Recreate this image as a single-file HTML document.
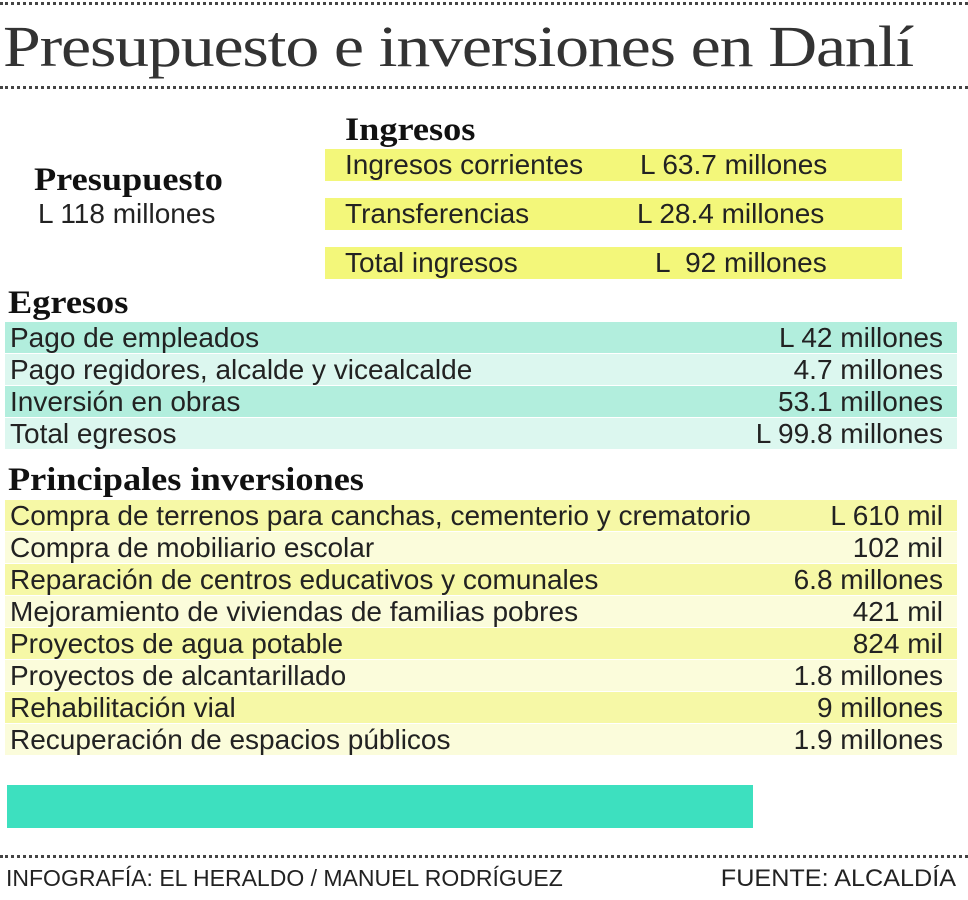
<!DOCTYPE html>
<html><head><meta charset="utf-8"><style>
body{margin:0;width:968px;height:900px;background:#fff;position:relative;overflow:hidden;font-family:"Liberation Sans Narrow","Liberation Sans",sans-serif;color:#222}
.dot{position:absolute;left:0;width:968px;border-top:3px dotted #444}
.t{position:absolute;white-space:nowrap}
.h{font-family:"Liberation Serif",serif;font-weight:bold;font-size:33px;color:#111;transform:scaleX(1.1);transform-origin:left}
.row{position:absolute;left:5px;width:952px;height:31px;font-size:28px;line-height:31px}
.row span{position:absolute}
.row .l{left:5px}.row .r{right:14px}
.ing{position:absolute;left:325px;width:577px;height:32px;background:#f3f77a;font-size:28px;line-height:32px}
.ing span{position:absolute}
</style></head><body>
<div class="dot" style="top:2px"></div>
<div class="t" style="left:3px;top:12px;font-family:'Liberation Serif',serif;font-size:58px;letter-spacing:-1px;color:#333;line-height:70px;transform:scaleX(1.17);transform-origin:left">Presupuesto e inversiones en Danlí</div>
<div class="dot" style="top:86px"></div>

<div class="t h" style="left:34px;top:162px">Presupuesto</div>
<div class="t" style="left:38px;top:198px;font-size:28px">L 118 millones</div>

<div class="t h" style="left:345px;top:112px">Ingresos</div>
<div class="ing" style="top:149px"><span style="left:20px">Ingresos corrientes</span><span style="left:315px">L 63.7 millones</span></div>
<div class="ing" style="top:198px"><span style="left:20px">Transferencias</span><span style="left:312px">L 28.4 millones</span></div>
<div class="ing" style="top:247px"><span style="left:20px">Total ingresos</span><span style="left:330px">L &nbsp;92 millones</span></div>

<div class="t h" style="left:8px;top:285px">Egresos</div>
<div class="row" style="top:322px;background:#b2eedd"><span class="l">Pago de empleados</span><span class="r">L 42 millones</span></div>
<div class="row" style="top:354px;background:#dcf7ef"><span class="l">Pago regidores, alcalde y vicealcalde</span><span class="r">4.7 millones</span></div>
<div class="row" style="top:386px;background:#b2eedd"><span class="l">Inversión en obras</span><span class="r">53.1 millones</span></div>
<div class="row" style="top:418px;background:#dcf7ef"><span class="l">Total egresos</span><span class="r">L 99.8 millones</span></div>

<div class="t h" style="left:8px;top:462px">Principales inversiones</div>
<div class="row" style="top:500px;background:#f6f8a6"><span class="l">Compra de terrenos para canchas, cementerio y crematorio</span><span class="r">L 610 mil</span></div>
<div class="row" style="top:532px;background:#fbfcdb"><span class="l">Compra de mobiliario escolar</span><span class="r">102 mil</span></div>
<div class="row" style="top:564px;background:#f6f8a6"><span class="l">Reparación de centros educativos y comunales</span><span class="r">6.8 millones</span></div>
<div class="row" style="top:596px;background:#fbfcdb"><span class="l">Mejoramiento de viviendas de familias pobres</span><span class="r">421 mil</span></div>
<div class="row" style="top:628px;background:#f6f8a6"><span class="l">Proyectos de agua potable</span><span class="r">824 mil</span></div>
<div class="row" style="top:660px;background:#fbfcdb"><span class="l">Proyectos de alcantarillado</span><span class="r">1.8 millones</span></div>
<div class="row" style="top:692px;background:#f6f8a6"><span class="l">Rehabilitación vial</span><span class="r">9 millones</span></div>
<div class="row" style="top:724px;background:#fbfcdb"><span class="l">Recuperación de espacios públicos</span><span class="r">1.9 millones</span></div>

<div style="position:absolute;left:7px;top:785px;width:746px;height:43px;background:#3de0bf"></div>
<div class="dot" style="top:855px"></div>
<div class="t" style="left:6px;top:865px;font-size:23px">INFOGRAFÍA: EL HERALDO / MANUEL RODRÍGUEZ</div>
<div class="t" style="right:12px;top:865px;font-size:24px;transform:scaleX(1.05);transform-origin:right">FUENTE: ALCALDÍA</div>
</body></html>
